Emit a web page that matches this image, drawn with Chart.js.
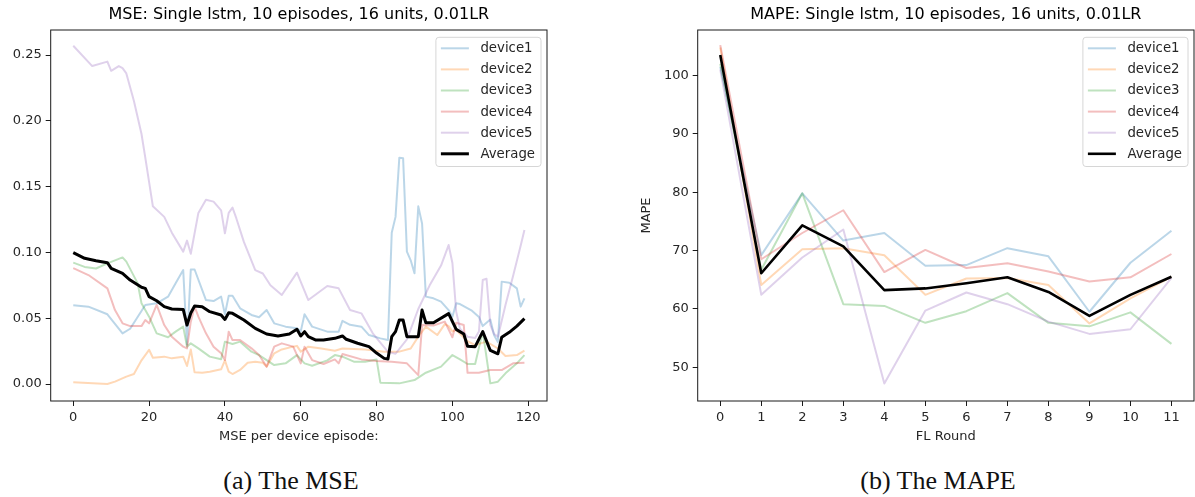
<!DOCTYPE html>
<html>
<head>
<meta charset="utf-8">
<script src="https://cdn.jsdelivr.net/npm/chart.js@4.4.1/dist/chart.umd.min.js"></script>
<style>
  html, body { margin: 0; padding: 0; background: #fff; }
  #page { position: relative; width: 1195px; height: 497px; overflow: hidden; background: #fff; }
  #page canvas { position: absolute; top: 0; }
  #mseCanvas { left: 0; }
  #mapeCanvas { left: 600px; }
  .caption { position: absolute; top: 466px; line-height: 30px; font-family: "Liberation Serif", serif; font-size: 26px; color: #111; transform: translateX(-50%); white-space: nowrap; }
</style>
</head>
<body>
<div id="page">
  <canvas id="mseCanvas" width="560" height="460"></canvas>
  <canvas id="mapeCanvas" width="595" height="460"></canvas>
  <div class="caption" style="left:291px">(a) The MSE</div>
  <div class="caption" style="left:938px">(b) The MAPE</div>
</div>
<script>
// ---- data ----
const deviceNames = ['device1', 'device2', 'device3', 'device4', 'device5'];
const deviceColors = ['rgba(31,119,180,0.3)', 'rgba(255,127,14,0.3)', 'rgba(44,160,44,0.3)', 'rgba(214,39,40,0.3)', 'rgba(148,103,189,0.3)'];

// MSE per episode: [episode, value] at the places where the line bends
const mseDevice1 = [[0,0.0598],[4,0.0588],[9,0.053],[13,0.0385],[15,0.042],[19,0.060],[22,0.0613],[25,0.0664],[27,0.0765],[29,0.0866],[30,0.030],[31,0.087],[32,0.087],[35,0.0638],[37,0.063],[39,0.0664],[40,0.053],[41,0.067],[42,0.067],[44,0.0575],[47,0.0525],[49,0.0507],[51,0.0562],[53,0.0461],[56,0.0436],[59,0.0423],[60,0.040],[61,0.053],[63,0.0436],[67,0.0398],[70,0.0398],[71,0.048],[73,0.045],[76,0.0436],[78,0.0372],[81,0.0347],[83,0.0334],[84,0.115],[85,0.127],[86,0.172],[87,0.1715],[88,0.1006],[89,0.094],[90,0.0841],[91,0.135],[92,0.122],[93,0.0664],[95,0.0651],[97,0.0626],[99,0.0562],[100,0.0511],[101,0.0613],[102,0.0608],[105,0.056],[107,0.051],[108,0.044],[110,0.049],[111,0.037],[112,0.032],[113,0.0778],[115,0.077],[117,0.0727],[118,0.0588],[119,0.0651]];
const mseDevice2 = [[0,0.0013],[9,0.0],[11,0.0018],[14,0.0056],[16,0.0076],[18,0.018],[20,0.026],[21,0.020],[24,0.0208],[26,0.0195],[29,0.0208],[30,0.0137],[31,0.0263],[32,0.0089],[34,0.0086],[36,0.0094],[39,0.0112],[40,0.018],[41,0.0094],[42,0.0076],[44,0.0107],[46,0.0162],[48,0.017],[50,0.0162],[51,0.0132],[53,0.0233],[55,0.0263],[58,0.0284],[59,0.029],[60,0.0246],[62,0.0284],[65,0.0271],[69,0.0253],[71,0.027],[77,0.0263],[82,0.0246],[86,0.0246],[89,0.027],[91,0.036],[93,0.0436],[96,0.0372],[98,0.0455],[99,0.044],[100,0.040],[101,0.041],[104,0.0325],[106,0.0296],[109,0.0322],[112,0.027],[114,0.0213],[117,0.022],[119,0.0253]];
const mseDevice3 = [[0,0.0922],[3,0.089],[6,0.0878],[9,0.0917],[13,0.0962],[14,0.093],[17,0.0765],[18,0.0613],[20,0.0512],[22,0.0385],[25,0.0355],[27,0.0398],[29,0.0436],[30,0.0284],[31,0.0309],[33,0.0271],[36,0.0208],[39,0.0188],[40,0.0322],[42,0.0304],[44,0.0322],[47,0.0246],[49,0.022],[53,0.0144],[56,0.0157],[59,0.022],[61,0.0157],[63,0.0139],[67,0.018],[69,0.022],[71,0.0208],[74,0.017],[77,0.017],[80,0.0187],[81,0.001],[86,0.0005],[90,0.003],[93,0.0086],[97,0.0132],[100,0.022],[102,0.0187],[104,0.0152],[106,0.0152],[108,0.040],[110,0.0005],[112,0.0018],[114,0.0081],[117,0.0157],[119,0.022]];
const mseDevice4 = [[0,0.088],[4,0.0828],[9,0.0727],[11,0.0562],[13,0.0461],[15,0.044],[18,0.044],[19,0.0486],[20,0.0461],[22,0.0601],[24,0.0448],[26,0.036],[29,0.0284],[30,0.0271],[31,0.0474],[32,0.0588],[33,0.0512],[35,0.0385],[37,0.0284],[39,0.0233],[40,0.0182],[41,0.0398],[42,0.0334],[44,0.0334],[47,0.0271],[49,0.022],[51,0.0132],[53,0.0284],[55,0.0309],[58,0.0284],[60,0.0157],[61,0.0284],[63,0.0182],[66,0.0152],[69,0.0187],[70,0.0157],[71,0.0228],[76,0.0187],[80,0.0175],[84,0.017],[88,0.0157],[91,0.0068],[92,0.0448],[95,0.0445],[98,0.0474],[100,0.0355],[101,0.0466],[103,0.0448],[104,0.0085],[107,0.0086],[110,0.0106],[113,0.0106],[116,0.0157],[119,0.0162]];
const mseDevice5 = [[0,0.257],[5,0.2416],[9,0.245],[10,0.238],[12,0.2416],[13,0.240],[14,0.236],[16,0.215],[18,0.19],[19,0.172],[21,0.135],[24,0.127],[26,0.115],[29,0.1006],[30,0.109],[31,0.099],[33,0.130],[35,0.140],[37,0.1386],[39,0.132],[40,0.1145],[41,0.130],[42,0.134],[43,0.126],[45,0.108],[48,0.0866],[50,0.084],[52,0.075],[55,0.0676],[59,0.0846],[62,0.0638],[67,0.0745],[70,0.0727],[73,0.0562],[76,0.0537],[79,0.0385],[83,0.0245],[85,0.023],[88,0.034],[91,0.057],[94,0.075],[97,0.09],[99,0.1056],[100,0.092],[101,0.055],[102,0.042],[104,0.036],[106,0.035],[107,0.04],[108,0.079],[109,0.080],[110,0.045],[111,0.038],[112,0.036],[114,0.06],[116,0.082],[118,0.105],[119,0.117]];
const mseAverage = [[0,0.0998],[3,0.0955],[6,0.0937],[9,0.0922],[10,0.0879],[13,0.084],[15,0.079],[18,0.0735],[19,0.0727],[20,0.0664],[22,0.0633],[24,0.0588],[26,0.057],[29,0.0567],[30,0.0448],[31,0.054],[32,0.0593],[34,0.0588],[36,0.055],[39,0.0524],[40,0.0491],[41,0.0542],[42,0.0537],[45,0.0486],[48,0.0423],[51,0.038],[54,0.0365],[57,0.038],[59,0.0416],[60,0.0365],[61,0.0398],[62,0.036],[64,0.0334],[66,0.0334],[69,0.0347],[71,0.0365],[72,0.034],[75,0.031],[78,0.0284],[80,0.0235],[82,0.0195],[83,0.019],[84,0.036],[85,0.0398],[86,0.0486],[87,0.0486],[88,0.036],[91,0.036],[92,0.0562],[93,0.0465],[95,0.0466],[99,0.0535],[101,0.0415],[103,0.038],[104,0.0287],[106,0.0284],[108,0.0398],[110,0.0255],[112,0.023],[113,0.0355],[115,0.0393],[117,0.044],[119,0.0497]];
const mseTicksX = [0, 20, 40, 60, 80, 100, 120];
const mseTicksY = [0, 0.05, 0.10, 0.15, 0.20, 0.25];

// MAPE per FL round
const flRounds = [0, 1, 2, 3, 4, 5, 6, 7, 8, 9, 10, 11];
const mapeDevice1 = [101.5, 69.2, 79.8, 71.7, 73.0, 67.4, 67.5, 70.4, 69.0, 59.5, 67.9, 73.4];
const mapeDevice2 = [104.8, 64.1, 70.2, 70.4, 69.2, 62.4, 65.2, 65.3, 64.1, 57.5, 61.8, 65.5];
const mapeDevice3 = [102.0, 66.7, 79.8, 60.8, 60.5, 57.6, 59.6, 62.7, 57.6, 57.0, 59.4, 54.0];
const mapeDevice4 = [105.2, 68.5, 73.0, 76.9, 66.3, 70.1, 67.0, 67.8, 66.4, 64.7, 65.4, 69.4];
const mapeDevice5 = [101.0, 62.4, 68.8, 73.6, 47.2, 59.7, 62.8, 60.8, 57.8, 55.7, 56.5, 65.3];
const mapeAverage = [103.5, 66.1, 74.3, 70.7, 63.2, 63.5, 64.4, 65.4, 62.9, 58.8, 62.4, 65.5];
const mapeTicksY = [50, 60, 70, 80, 90, 100];

// ---- look ----
const FONT = '"DejaVu Sans", sans-serif';
const TEXT = '#262626';
Chart.defaults.font.family = FONT;
Chart.defaults.font.size = 13;
Chart.defaults.color = TEXT;

// matplotlib-like box around the plot area
const framePlugin = {
    id: 'frame',
    afterDatasetsDraw(chart) {
        const a = chart.chartArea;
        const ctx = chart.ctx;
        ctx.save();
        ctx.strokeStyle = '#1a1a1a';
        ctx.lineWidth = 1;
        ctx.strokeRect(a.left, a.top, a.right - a.left, a.bottom - a.top);
        ctx.restore();
    }
};

// legend drawn inside the upper right corner
const insideLegend = {
    id: 'insideLegend',
    afterDraw(chart) {
        const ctx = chart.ctx;
        const a = chart.chartArea;
        const sets = chart.data.datasets;
        ctx.save();
        ctx.font = '13.3px ' + FONT;
        let textW = 0;
        sets.forEach(d => { textW = Math.max(textW, ctx.measureText(d.label).width); });
        const rowH = 21.1;
        const w = 5 + 28 + 11.5 + textW + 6;
        const h = 11 + rowH * (sets.length - 1) + 12.7;
        const x0 = a.right - 6 - w;
        const y0 = a.top + 7.3;
        ctx.beginPath();
        ctx.roundRect(x0, y0, w, h, 3);
        ctx.fillStyle = 'rgba(255,255,255,0.8)';
        ctx.fill();
        ctx.strokeStyle = '#d6d6d6';
        ctx.lineWidth = 1;
        ctx.stroke();
        sets.forEach((d, i) => {
            const y = y0 + 11 + i * rowH;
            ctx.beginPath();
            ctx.moveTo(x0 + 5, y);
            ctx.lineTo(x0 + 33, y);
            ctx.strokeStyle = d.borderColor;
            ctx.lineWidth = d.borderWidth;
            ctx.stroke();
            ctx.fillStyle = TEXT;
            ctx.textBaseline = 'middle';
            ctx.textAlign = 'left';
            ctx.fillText(d.label, x0 + 44.5, y + 0.5);
        });
        ctx.restore();
    }
};

function fixedTicks(list) {
    return function(axis) {
        axis.ticks = list.map(v => ({ value: v }));
    };
}

function buildDatasets(seriesList, avg, avgWidth) {
    let sets = seriesList.map((data, i) => ({
        label: deviceNames[i],
        data: data,
        borderColor: deviceColors[i],
        borderWidth: 2,
        order: seriesList.length + 1 - i
    }));
    sets.push({ label: 'Average', data: avg, borderColor: '#000000', borderWidth: avgWidth, order: 0 });
    sets.forEach(s => {
        s.pointRadius = 0;
        s.fill = false;
        s.tension = 0;
        s.borderJoinStyle = 'round';
    });
    return sets;
}

function axisBase(ticksList, size, isX) {
    return {
        type: 'linear',
        afterBuildTicks: fixedTicks(ticksList),
        afterFit(scale) {
            if (isX) scale.height = size; else scale.width = size;
        },
        grid: { display: true, drawOnChartArea: false, drawTicks: true, tickLength: 5, color: '#1a1a1a' },
        border: { display: false },
        ticks: { padding: 4, color: TEXT, font: { size: 13 }, maxRotation: 0, autoSkip: false }
    };
}

function titleOpts(text) {
    return {
        display: true,
        text: text,
        fullSize: false,
        color: '#000',
        font: { size: 16, weight: 'normal' },
        padding: { top: 5.4, bottom: 5.4 }
    };
}

// ---- left: MSE ----
const toXY = pairs => pairs.map(p => ({ x: p[0], y: p[1] }));
let mseX = axisBase(mseTicksX, 59, true);
mseX.min = -5.95;
mseX.max = 124.95;
mseX.title = { display: true, text: 'MSE per device episode:', color: TEXT, font: { size: 13 }, padding: { top: 0, bottom: 15.2 } };
let mseY = axisBase(mseTicksY, 50.7, false);
mseY.min = -0.0129;
mseY.max = 0.269;
mseY.ticks.callback = v => v.toFixed(2);

new Chart(document.getElementById('mseCanvas'), {
    type: 'line',
    data: {
        datasets: buildDatasets([mseDevice1, mseDevice2, mseDevice3, mseDevice4, mseDevice5].map(toXY), toXY(mseAverage), 3)
    },
    options: {
        responsive: false,
        animation: false,
        devicePixelRatio: 1,
        layout: { padding: { left: 0, right: 13, top: 0, bottom: 0 } },
        plugins: {
            legend: { display: false },
            tooltip: { enabled: false },
            title: titleOpts('MSE: Single lstm, 10 episodes, 16 units, 0.01LR')
        },
        scales: { x: mseX, y: mseY }
    },
    plugins: [framePlugin, insideLegend]
});

// ---- right: MAPE ----
const roundXY = vals => vals.map((v, i) => ({ x: flRounds[i], y: v }));
let mapeX = axisBase(flRounds, 59, true);
mapeX.min = -0.55;
mapeX.max = 11.55;
mapeX.title = { display: true, text: 'FL Round', color: TEXT, font: { size: 13 }, padding: { top: 0, bottom: 15.2 } };
let mapeY = axisBase(mapeTicksY, 97.7, false);
mapeY.min = 44.2;
mapeY.max = 107.8;
mapeY.title = { display: true, text: 'MAPE', color: TEXT, font: { size: 13 }, padding: { top: 39.2, bottom: 0 } };

new Chart(document.getElementById('mapeCanvas'), {
    type: 'line',
    data: {
        datasets: buildDatasets([mapeDevice1, mapeDevice2, mapeDevice3, mapeDevice4, mapeDevice5].map(roundXY), roundXY(mapeAverage), 2.6)
    },
    options: {
        responsive: false,
        animation: false,
        devicePixelRatio: 1,
        layout: { padding: { left: 0, right: 1, top: 0, bottom: 0 } },
        plugins: {
            legend: { display: false },
            tooltip: { enabled: false },
            title: titleOpts('MAPE: Single lstm, 10 episodes, 16 units, 0.01LR')
        },
        scales: { x: mapeX, y: mapeY }
    },
    plugins: [framePlugin, insideLegend]
});
</script>
</body>
</html>
